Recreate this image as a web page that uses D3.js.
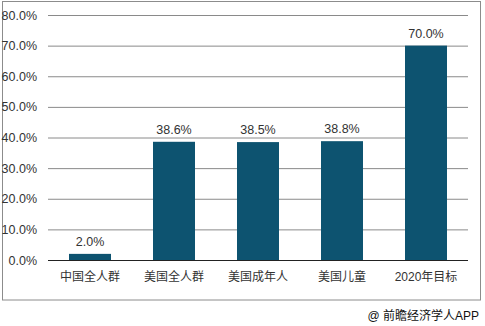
<!DOCTYPE html>
<html><head><meta charset="utf-8">
<script src="https://cdn.jsdelivr.net/npm/d3@7"></script>
<style>body{margin:0;background:#fff;}svg{display:block;font-family:"Liberation Sans","Noto Sans CJK SC",Arial,sans-serif;}</style>
</head><body>
<svg id="c" width="485" height="326"></svg>
<script>
const categories = ["中国全人群","美国全人群","美国成年人","美国儿童","2020年目标"];
const values = [2.0, 38.6, 38.5, 38.8, 70.0];
const yTicks = [0,10,20,30,40,50,60,70,80];

const svg = d3.select("#c");
const m = {l:48, r:17, t:15, b:66};
const W = 485, H = 326;
const x = d3.scaleBand().domain(categories).range([m.l, W-m.r]).paddingInner(0.5).paddingOuter(0.25);
const y = d3.scaleLinear().domain([0,80]).range([H-m.b, m.t]);

svg.append("rect").attr("x",2.5).attr("y",1.5).attr("width",478).attr("height",298.5)
  .attr("fill","none").attr("stroke","#8c8c8c").attr("stroke-width",1);

const yAxis = svg.append("g").attr("transform",`translate(${m.l},0)`)
  .call(d3.axisLeft(y).tickValues(yTicks).tickFormat(d=>d.toFixed(1)+"%").tickSize(-(W-m.l-m.r)).tickPadding(11));
yAxis.select(".domain").remove();
yAxis.selectAll(".tick line").attr("stroke","#8a8a8a").attr("stroke-width",1);
yAxis.selectAll(".tick text").attr("fill","#333").style("font-size","12.5px");

svg.append("g").selectAll("rect").data(values).join("rect")
  .attr("x",(d,i)=>x(categories[i])).attr("width",x.bandwidth())
  .attr("y",d=>y(d)).attr("height",d=>y(0)-y(d)).attr("fill","#0d5370");

svg.append("line").attr("x1",m.l).attr("x2",W-m.r).attr("y1",y(0)+0.5).attr("y2",y(0)+0.5).attr("stroke","#222");

svg.append("g").selectAll("text").data(values).join("text")
  .attr("x",(d,i)=>x(categories[i])+x.bandwidth()/2).attr("y",d=>y(d)-8)
  .attr("text-anchor","middle").attr("fill","#333").style("font-size","12.5px")
  .text(d=>d.toFixed(1)+"%");

svg.append("g").selectAll("text").data(categories).join("text")
  .attr("x",d=>x(d)+x.bandwidth()/2).attr("y",y(0)+21)
  .attr("text-anchor","middle").attr("fill","#333").style("font-size","12px")
  .text(d=>d);

svg.append("text").attr("x",479).attr("y",320).attr("text-anchor","end")
  .attr("fill","#111").style("font-size","12px").text("@ 前瞻经济学人APP");
</script>
</body></html>
